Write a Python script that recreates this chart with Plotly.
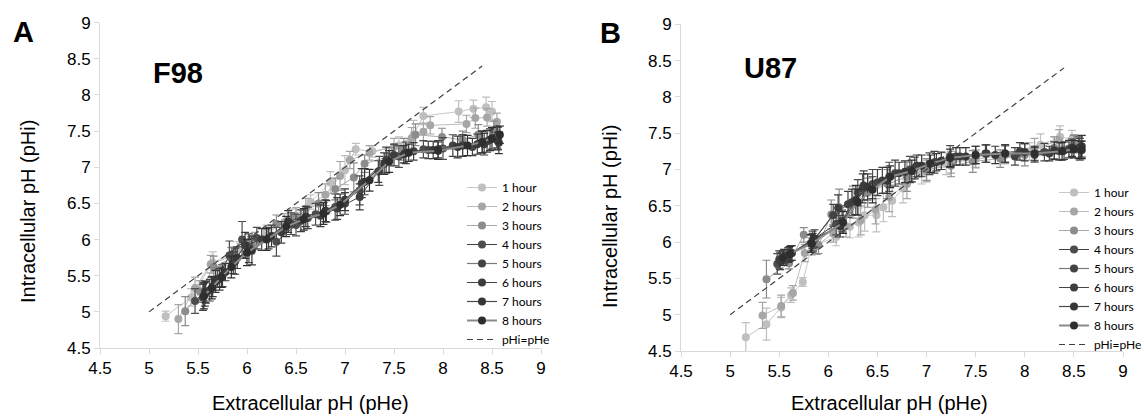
import plotly.graph_objects as go

# ---- data -------------------------------------------------------------
HOURS = ["1 hour", "2 hours", "3 hours", "4 hours", "5 hours", "6 hours", "7 hours", "8 hours"]
TICKS = [4.5, 5, 5.5, 6, 6.5, 7, 7.5, 8, 8.5, 9]
IDENTITY = [5.0, 8.4]

# F98: extracellular pH (pHe), intracellular pH (pHi) and SD per time point
f98_phe = [
    [5.17, 5.43, 5.65, 5.90, 6.20, 6.45, 6.65, 6.85, 7.00, 7.11, 7.28, 7.55, 7.70, 7.80, 8.16, 8.31, 8.44, 8.50],
    [5.30, 5.47, 5.63, 5.86, 6.08, 6.38, 6.60, 6.80, 6.95, 7.05, 7.25, 7.50, 7.68, 7.80, 7.87, 8.24, 8.33, 8.45, 8.55],
    [5.37, 5.52, 5.66, 5.84, 6.04, 6.30, 6.50, 6.73, 6.90, 7.09, 7.20, 7.45, 7.60, 7.72, 7.99, 8.20, 8.36, 8.52],
    [5.47, 5.57, 5.70, 5.82, 5.95, 6.10, 6.30, 6.50, 6.70, 6.90, 7.15, 7.35, 7.55, 7.80, 8.00, 8.20, 8.40, 8.56],
    [5.55, 5.62, 5.75, 5.88, 6.02, 6.22, 6.45, 6.62, 6.81, 7.00, 7.17, 7.42, 7.62, 7.85, 8.10, 8.30, 8.45, 8.55],
    [5.57, 5.65, 5.72, 5.86, 5.98, 6.15, 6.35, 6.55, 6.75, 6.92, 7.15, 7.34, 7.50, 7.70, 7.95, 8.20, 8.42, 8.56],
    [5.58, 5.68, 5.78, 5.90, 6.05, 6.25, 6.42, 6.60, 6.80, 7.00, 7.20, 7.40, 7.60, 7.90, 8.15, 8.35, 8.48, 8.57],
    [5.56, 5.64, 5.74, 5.84, 6.00, 6.20, 6.40, 6.58, 6.78, 6.95, 7.25, 7.45, 7.65, 7.95, 8.25, 8.40, 8.50, 8.58],
]
f98_phi = [
    [4.94, 5.20, 5.68, 5.85, 6.10, 6.30, 6.52, 6.79, 6.96, 7.25, 7.22, 7.30, 7.45, 7.71, 7.77, 7.81, 7.83, 7.77],
    [4.90, 5.33, 5.66, 5.78, 5.98, 6.24, 6.43, 6.62, 6.88, 7.10, 7.20, 7.28, 7.40, 7.49, 7.58, 7.60, 7.68, 7.69, 7.63],
    [5.01, 5.28, 5.62, 5.74, 5.92, 6.22, 6.32, 6.50, 6.70, 6.86, 7.05, 7.15, 7.25, 7.45, 7.42, 7.38, 7.45, 7.52],
    [5.15, 5.28, 5.46, 5.78, 6.00, 6.02, 5.97, 6.20, 6.35, 6.45, 6.68, 6.95, 7.15, 7.25, 7.26, 7.30, 7.35, 7.40],
    [5.20, 5.30, 5.50, 5.70, 5.88, 6.02, 6.22, 6.30, 6.39, 6.50, 6.78, 7.10, 7.20, 7.24, 7.30, 7.28, 7.36, 7.42],
    [5.24, 5.35, 5.45, 5.68, 5.92, 6.00, 6.10, 6.26, 6.33, 6.43, 6.59, 6.94, 7.17, 7.22, 7.25, 7.30, 7.32, 7.36],
    [5.27, 5.42, 5.55, 5.75, 5.85, 6.05, 6.25, 6.32, 6.40, 6.55, 6.80, 7.05, 7.18, 7.24, 7.28, 7.32, 7.38, 7.34],
    [5.22, 5.33, 5.48, 5.62, 5.82, 6.00, 6.18, 6.28, 6.36, 6.48, 6.82, 7.08, 7.20, 7.23, 7.30, 7.35, 7.40, 7.45],
]
f98_sd = [
    [0.07, 0.12, 0.15, 0.12, 0.10, 0.12, 0.10, 0.15, 0.20, 0.08, 0.08, 0.12, 0.20, 0.12, 0.15, 0.12, 0.14, 0.14],
    [0.20, 0.15, 0.12, 0.12, 0.12, 0.12, 0.14, 0.15, 0.20, 0.12, 0.10, 0.12, 0.15, 0.12, 0.12, 0.12, 0.14, 0.12, 0.12],
    [0.20, 0.15, 0.15, 0.15, 0.12, 0.12, 0.12, 0.15, 0.15, 0.20, 0.12, 0.12, 0.15, 0.15, 0.12, 0.12, 0.14, 0.12],
    [0.17, 0.15, 0.12, 0.20, 0.25, 0.15, 0.20, 0.15, 0.15, 0.18, 0.20, 0.20, 0.15, 0.12, 0.15, 0.15, 0.15, 0.15],
    [0.18, 0.15, 0.15, 0.18, 0.20, 0.15, 0.15, 0.15, 0.15, 0.15, 0.20, 0.18, 0.15, 0.12, 0.15, 0.12, 0.15, 0.15],
    [0.16, 0.14, 0.15, 0.15, 0.18, 0.15, 0.15, 0.15, 0.15, 0.15, 0.18, 0.15, 0.15, 0.12, 0.12, 0.15, 0.15, 0.12],
    [0.15, 0.15, 0.12, 0.15, 0.20, 0.15, 0.15, 0.14, 0.15, 0.15, 0.18, 0.15, 0.12, 0.12, 0.15, 0.14, 0.15, 0.15],
    [0.18, 0.15, 0.14, 0.15, 0.18, 0.15, 0.14, 0.15, 0.15, 0.15, 0.15, 0.15, 0.12, 0.12, 0.14, 0.15, 0.15, 0.12],
]

# U87
u87_phe = [
    [5.16, 5.37, 5.52, 5.62, 5.74, 5.83, 6.08, 6.22, 6.31, 6.37, 6.49, 6.56, 6.65, 6.76, 6.95, 7.20, 7.50, 7.80, 8.05, 8.16, 8.36, 8.48],
    [5.33, 5.52, 5.64, 5.76, 5.88, 6.05, 6.18, 6.33, 6.48, 6.62, 6.80, 7.00, 7.25, 7.50, 7.80, 8.10, 8.35, 8.50],
    [5.37, 5.60, 5.75, 5.90, 6.03, 6.11, 6.25, 6.40, 6.60, 6.80, 7.00, 7.25, 7.47, 7.75, 8.00, 8.30, 8.50],
    [5.48, 5.60, 5.84, 6.08, 6.14, 6.30, 6.45, 6.62, 6.83, 7.03, 7.24, 7.50, 7.80, 8.10, 8.35, 8.56],
    [5.50, 5.62, 5.82, 6.05, 6.20, 6.35, 6.50, 6.68, 6.88, 7.08, 7.30, 7.60, 7.90, 8.20, 8.40, 8.55],
    [5.51, 5.59, 5.84, 6.10, 6.24, 6.36, 6.55, 6.72, 6.90, 7.10, 7.34, 7.61, 7.95, 8.25, 8.45, 8.57],
    [5.55, 5.63, 5.86, 6.12, 6.28, 6.40, 6.60, 6.78, 6.95, 7.15, 7.40, 7.70, 8.00, 8.30, 8.48, 8.58],
    [5.54, 5.61, 5.83, 6.15, 6.30, 6.45, 6.63, 6.85, 7.04, 7.24, 7.50, 7.80, 8.10, 8.38, 8.50, 8.58],
]
u87_phi = [
    [4.69, 4.87, 5.10, 5.27, 5.45, 5.94, 6.07, 6.21, 6.27, 6.37, 6.37, 6.48, 6.57, 6.74, 6.95, 7.08, 7.14, 7.20, 7.25, 7.34, 7.45, 7.42],
    [4.99, 5.12, 5.30, 5.85, 5.95, 6.12, 6.22, 6.30, 6.45, 6.62, 6.80, 6.98, 7.10, 7.15, 7.20, 7.28, 7.40, 7.36],
    [5.49, 5.71, 6.10, 5.96, 6.38, 6.48, 6.55, 6.68, 6.80, 6.90, 7.00, 7.05, 7.11, 7.15, 7.20, 7.30, 7.35],
    [5.70, 5.83, 6.03, 6.25, 6.29, 6.68, 6.80, 6.90, 7.00, 7.08, 7.18, 7.20, 7.22, 7.20, 7.25, 7.28],
    [5.76, 5.85, 5.98, 6.37, 6.52, 6.74, 6.82, 6.95, 7.02, 7.10, 7.18, 7.22, 7.18, 7.24, 7.26, 7.30],
    [5.74, 5.82, 6.00, 6.47, 6.55, 6.78, 6.85, 6.95, 7.05, 7.10, 7.18, 7.22, 7.25, 7.22, 7.28, 7.27],
    [5.80, 5.85, 6.05, 6.22, 6.58, 6.76, 6.85, 6.97, 7.05, 7.12, 7.18, 7.20, 7.24, 7.26, 7.30, 7.32],
    [5.78, 5.84, 5.98, 6.27, 6.55, 6.72, 6.90, 6.98, 7.08, 7.16, 7.20, 7.22, 7.22, 7.25, 7.28, 7.27],
]
u87_sd = [
    [0.20, 0.22, 0.14, 0.10, 0.06, 0.12, 0.12, 0.15, 0.20, 0.22, 0.23, 0.20, 0.22, 0.20, 0.15, 0.15, 0.12, 0.12, 0.12, 0.15, 0.15, 0.12],
    [0.18, 0.15, 0.10, 0.12, 0.12, 0.12, 0.15, 0.20, 0.20, 0.20, 0.20, 0.15, 0.15, 0.12, 0.12, 0.15, 0.15, 0.12],
    [0.26, 0.08, 0.10, 0.12, 0.20, 0.25, 0.22, 0.20, 0.20, 0.20, 0.15, 0.15, 0.15, 0.12, 0.15, 0.15, 0.12],
    [0.14, 0.10, 0.12, 0.15, 0.15, 0.18, 0.20, 0.20, 0.18, 0.15, 0.15, 0.12, 0.12, 0.10, 0.12, 0.15],
    [0.12, 0.10, 0.12, 0.15, 0.18, 0.20, 0.18, 0.18, 0.15, 0.15, 0.12, 0.12, 0.12, 0.12, 0.12, 0.15],
    [0.12, 0.10, 0.12, 0.18, 0.18, 0.20, 0.18, 0.15, 0.15, 0.12, 0.12, 0.12, 0.12, 0.10, 0.12, 0.12],
    [0.10, 0.10, 0.12, 0.15, 0.20, 0.18, 0.18, 0.15, 0.15, 0.12, 0.12, 0.12, 0.12, 0.12, 0.12, 0.15],
    [0.10, 0.10, 0.12, 0.15, 0.18, 0.18, 0.15, 0.15, 0.12, 0.12, 0.12, 0.12, 0.10, 0.12, 0.12, 0.12],
]

# ---- styling ----------------------------------------------------------
MARKER_COLORS = ["#bfbfbf", "#a6a6a6", "#8c8c8c", "#4d4d4d", "#434343", "#3d3d3d", "#363636", "#2e2e2e"]
LINE_COLORS = ["#c8c8c8", "#bdbdbd", "#a9a9a9", "#404040", "#7a7a7a", "#454545", "#4a4a4a", "#8a8a8a"]
LINE_WIDTHS = [1, 1, 1, 1, 1.2, 1, 1.2, 2]
TICK_FONT = dict(family="Liberation Sans, Arial, sans-serif", size=17, color="#000000")
LEGEND_FONT = dict(family="Lato, Carlito, sans-serif", size=12, color="#000000")

fig = go.Figure()


def add_panel(phe, phi, sd, xa, ya, legend):
    for i, name in enumerate(HOURS):
        fig.add_trace(go.Scatter(
            x=phe[i], y=phi[i], name=name, mode="lines+markers",
            xaxis=xa, yaxis=ya, legend=legend,
            line=dict(color=LINE_COLORS[i], width=LINE_WIDTHS[i]),
            marker=dict(color=MARKER_COLORS[i], size=8),
            error_y=dict(type="data", array=sd[i], visible=True,
                         color=MARKER_COLORS[i], thickness=1.2, width=4),
        ))
    fig.add_trace(go.Scatter(
        x=IDENTITY, y=IDENTITY, name="pHi=pHe", mode="lines",
        xaxis=xa, yaxis=ya, legend=legend,
        line=dict(color="#404040", width=1.2, dash="6px,4px"),
    ))


add_panel(f98_phe, f98_phi, f98_sd, "x", "y", "legend")
add_panel(u87_phe, u87_phi, u87_sd, "x2", "y2", "legend2")

W, H = 1144, 416


def px(v):
    return v / W


def py(v):
    return 1 - v / H


axis_common = dict(
    range=[4.5, 9], tickvals=TICKS, ticktext=[f"{t:g}" for t in TICKS],
    showgrid=False, zeroline=False, showline=True, linecolor="#d9d9d9", linewidth=1,
    ticks="outside", ticklen=5, tickcolor="#d9d9d9", tickfont=TICK_FONT,
)

legend_common = dict(
    font=LEGEND_FONT, bgcolor="rgba(0,0,0,0)", borderwidth=0,
    xanchor="left", yanchor="top", tracegroupgap=0, itemwidth=30,
)

fig.update_layout(
    width=W, height=H, margin=dict(l=0, r=0, t=0, b=0, autoexpand=False),
    paper_bgcolor="white", plot_bgcolor="white",
    xaxis=dict(domain=[px(100), px(541)], anchor="y", **axis_common),
    yaxis=dict(domain=[py(348), py(22.7)], anchor="x", **axis_common),
    xaxis2=dict(domain=[px(681), px(1123)], anchor="y2", **axis_common),
    yaxis2=dict(domain=[py(351), py(24.3)], anchor="x2", **axis_common),
    legend=dict(x=px(462), y=py(173), **legend_common),
    legend2=dict(x=px(1054), y=py(178), **legend_common),
    showlegend=True,
)

title_font = dict(family="Liberation Sans, Arial, sans-serif", size=20, color="#000000")
bold_font = dict(family="Liberation Sans, Arial, sans-serif", size=29, color="#000000")

annotations = [
    ("<b>A</b>", 23, 32, bold_font, 0),
    ("<b>B</b>", 610, 33, bold_font, 0),
    ("<b>F98</b>", 178, 73, bold_font, 0),
    ("<b>U87</b>", 770, 68, bold_font, 0),
    ("Extracellular pH (pHe)", 310, 403, title_font, 0),
    ("Extracellular pH (pHe)", 889, 403, title_font, 0),
    ("Intracellular pH (pHi)", 28, 212, title_font, -90),
    ("Intracellular pH (pHi)", 610, 217, title_font, -90),
]
for text, ax, ay, font, angle in annotations:
    fig.add_annotation(text=text, x=px(ax), y=py(ay), xref="paper", yref="paper",
                       showarrow=False, font=font, textangle=angle,
                       xanchor="center", yanchor="middle")

fig.write_html("out.html")
